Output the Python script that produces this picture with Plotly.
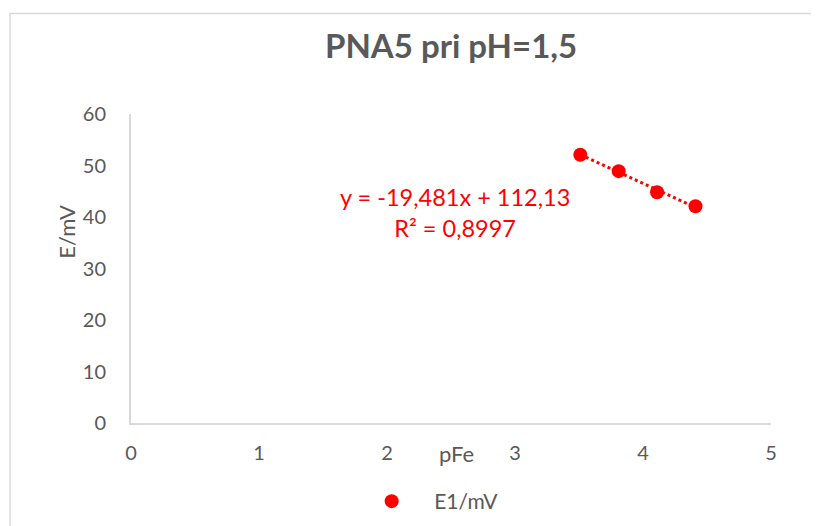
import numpy as np
import plotly.graph_objects as go

# data
pfe = [3.51, 3.81, 4.11, 4.41]
e1_mv = [52.1, 48.9, 44.8, 42.1]
series_name = "E1/mV"
eq_text = "y = -19,481x + 112,13<br>R² = 0,8997"

red = "#FF0000"
grey_text = "#595959"
axis_grey = "#D9D9D9"
font_family = "Lato, 'Open Sans', sans-serif"

# linear trendline over the data range
k, b = np.polyfit(pfe, e1_mv, 1)
trend_x = [pfe[0], pfe[-1]]
trend_y = [k * x + b for x in trend_x]

fig = go.Figure()
fig.add_trace(go.Scatter(x=trend_x, y=trend_y, mode="lines",
                         line=dict(color=red, width=3, dash="dot"),
                         showlegend=False, hoverinfo="skip"))
fig.add_trace(go.Scatter(x=pfe, y=e1_mv, mode="markers", name=series_name,
                         marker=dict(color=red, size=14)))

fig.add_annotation(x=2.53, y=40.9, xref="x", yref="y", text=eq_text,
                   showarrow=False, align="center",
                   font=dict(color=red, size=23.5, family=font_family))
fig.add_annotation(x=2.54, yref="paper", y=-0.1, xref="x", text="pFe",
                   showarrow=False, yanchor="middle",
                   font=dict(color=grey_text, size=22, family=font_family))
fig.add_annotation(x=-0.1, xref="paper", y=0.619, yref="paper", text="E/mV",
                   showarrow=False, textangle=-90, xanchor="center", yanchor="middle",
                   font=dict(color=grey_text, size=22, family=font_family))

# chart area border
fig.add_shape(type="rect", xref="paper", yref="paper",
              x0=-0.189, x1=1.2, y0=-0.5, y1=1.325,
              line=dict(color=axis_grey, width=1.5), layer="below")

fig.update_layout(
    width=819, height=526,
    paper_bgcolor="white", plot_bgcolor="white",
    margin=dict(l=123, r=56, t=106, b=109),
    title=dict(text="<b>PNA5 pri pH=1,5</b>", x=0.541, xanchor="center",
               y=0.926, yanchor="middle",
               font=dict(size=33, color=grey_text, family=font_family)),
    font=dict(family=font_family, color=grey_text),
    showlegend=True,
    legend=dict(orientation="h", x=0.462, xanchor="center", y=-0.254, yanchor="middle",
                font=dict(size=21, color=grey_text, family=font_family),
                itemwidth=75),
)
fig.update_xaxes(range=[0, 5], dtick=1, showgrid=False, zeroline=False,
                 showline=True, linecolor=axis_grey, linewidth=2, automargin=False,
                 ticks="", tickfont=dict(size=20, color=grey_text),
                 ticklabelstandoff=11)
fig.update_yaxes(range=[0, 60], dtick=10, showgrid=False, zeroline=False,
                 showline=True, linecolor=axis_grey, linewidth=2, automargin=False,
                 ticks="", tickfont=dict(size=20, color=grey_text),
                 ticklabelstandoff=19)

fig.write_html("out.html")
